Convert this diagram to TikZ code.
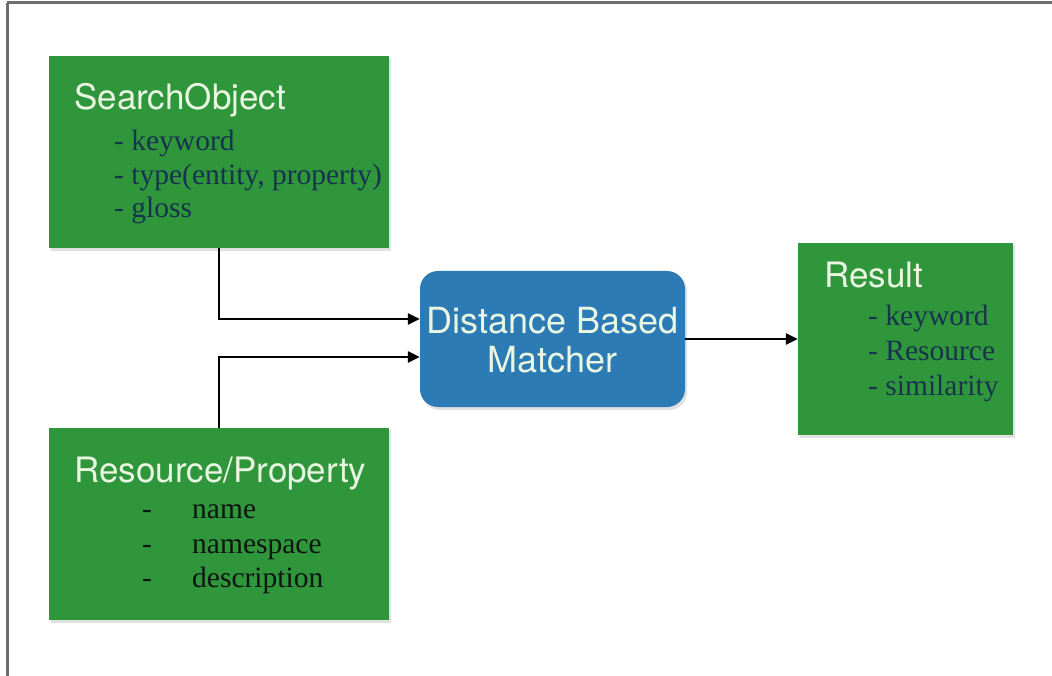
\documentclass[tikz,border=0pt]{standalone}
\usepackage{fontspec}
\setmainfont{Liberation Serif}
\newfontfamily\headfont{TeX Gyre Heros}
\usetikzlibrary{arrows.meta}
\definecolor{boxgreen}{RGB}{48,150,60}
\definecolor{boxblue}{RGB}{44,123,180}
\definecolor{headtxt}{RGB}{232,246,226}
\definecolor{itemnavy}{RGB}{22,52,78}
\definecolor{itemblack}{RGB}{14,20,16}
\definecolor{framegray}{RGB}{110,110,110}
\tikzset{
  greenbox/.style={draw=none, fill=boxgreen, minimum width=#1, inner sep=0pt},
  bluebox/.style={draw=none, fill=boxblue, rounded corners=18pt, inner sep=0pt},
  headtext/.style={anchor=base west, inner sep=0pt, text=headtxt, font=\headfont\fontsize{35}{40}\selectfont},
  itemtext/.style={anchor=base west, inner sep=0pt, text=itemnavy, font=\fontsize{29.5}{34}\selectfont},
  itemblk/.style={anchor=base west, inner sep=0pt, text=itemblack, font=\fontsize{29.5}{34}\selectfont},
  conn/.style={line width=2.6pt, -{Triangle[length=12pt,width=11pt]}},
  shade/.style={fill=black, opacity=0.12}
}
\begin{document}
\begin{tikzpicture}[x=1pt,y=-1pt]
\useasboundingbox (0,0) rectangle (1052,676);
\fill[white] (0,0) rectangle (1052,676);
% frame
\draw[framegray, line width=3pt] (7,3) -- (1052,3);
\draw[framegray, line width=3pt] (7,3) -- (7,676);
% shadows
\fill[shade] (51,58) rectangle (391,251);
\fill[shade] (51,430) rectangle (391,623);
\fill[shade] (800,245) rectangle (1015,438);
\fill[shade, rounded corners=18pt] (422,273) rectangle (687,410);
% boxes
\node[greenbox=340pt, minimum height=192pt] (so) at (219,152) {};
\node[greenbox=340pt, minimum height=192pt] (rp) at (219,524) {};
\node[greenbox=215pt, minimum height=192pt] (res) at (905.5,339) {};
\node[bluebox, minimum width=265pt, minimum height=136pt] (m) at (552.5,339) {};
% SearchObject text
\node[headtext] (sot) at (74,110) {SearchObject};
\node[itemtext] (so1) at (114,151) {- keyword};
\node[itemtext] (so2) at (114,185) {- type(entity, property)};
\node[itemtext] (so3) at (114,218) {- gloss};
% Resource/Property text
\node[headtext] (rpt) at (74,482) {Resource/Property};
\node[itemblk] (rpd1) at (142,518) {-};
\node[itemblk] (rpd2) at (142,553) {-};
\node[itemblk] (rpd3) at (142,587) {-};
\node[itemblk] (rp1) at (192,518) {name};
\node[itemblk] (rp2) at (192,553) {namespace};
\node[itemblk] (rp3) at (192,587) {description};
% Result text
\node[headtext] (rest) at (824,288) {Result};
\node[itemtext] (res1) at (868,326) {- keyword};
\node[itemtext] (res2) at (868,360) {- Resource};
\node[itemtext] (res3) at (868,395) {- similarity};
% Matcher text
\node[anchor=base, inner sep=0pt, text=headtxt, font=\headfont\fontsize{36}{42}\selectfont] (mt1) at (552.5,333) {Distance Based};
\node[anchor=base, inner sep=0pt, text=headtxt, font=\headfont\fontsize{36}{42}\selectfont] (mt2) at (552.5,372) {Matcher};
% connectors
\draw[conn] (so.south) |- ([yshift=20pt]m.west);
\draw[conn] (rp.north) |- ([yshift=-18pt]m.west);
\draw[conn] (m.east) -- (res.west);
\end{tikzpicture}
\end{document}
